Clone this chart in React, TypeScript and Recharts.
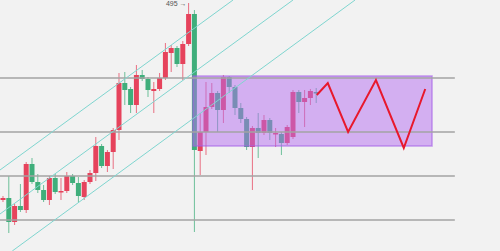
import React from "react"
import {
	ComposedChart,
	Bar,
	Line,
	XAxis,
	YAxis,
	ReferenceArea,
	ReferenceLine,
	ReferenceDot,
} from "recharts"

// candle values, one entry per session
const opens = [298, 300, 276, 292, 288, 334, 316, 308, 298, 320, 306, 307, 322, 315, 301, 316, 325, 352, 332, 346, 368, 415, 409, 393, 423, 419, 407, 409, 420, 445, 450, 434, 454, 484, 347, 366, 391, 405, 388, 421, 411, 390, 379, 351, 370, 365, 378, 364, 364, 355, 361, 406, 396, 400, 406]
const closes = [300, 276, 292, 288, 334, 316, 308, 298, 320, 306, 307, 322, 315, 302, 316, 325, 352, 332, 346, 368, 415, 408, 393, 423, 419, 408, 409, 420, 446, 450, 434, 454, 484, 348, 366, 391, 405, 388, 421, 411, 390, 379, 351, 370, 365, 378, 365, 365, 355, 371, 406, 396, 400, 407, 405]
const highs = [302, 322, 294, 314, 336, 340, 324, 313, 322, 324, 320, 326, 324, 321, 318, 328, 361, 354, 348, 370, 425, 426, 411, 433, 428, 421, 416, 425, 455, 453, 452, 457, 495, 488, 385, 416, 415, 407, 423, 422, 413, 395, 381, 372, 385, 383, 380, 370, 366, 373, 408, 408, 408, 409, 410]
const lows = [296, 265, 273, 286, 285, 314, 305, 296, 293, 304, 298, 305, 313, 296, 298, 314, 317, 330, 326, 329, 358, 393, 385, 385, 417, 401, 385, 407, 418, 426, 431, 418, 452, 266, 323, 343, 389, 366, 375, 405, 383, 375, 348, 308, 340, 363, 358, 351, 343, 353, 359, 385, 371, 393, 395]

// projected path drawn to the right of the last candle
const zigX = [54.1, 56.0, 59.5, 64.3, 69.1, 72.8]
const zigY = [403, 415, 366, 418, 350, 409]

// horizontal support / resistance levels
const levels = [420, 366, 322, 278]
const levelStart = -0.52
const levelEnd = 77.9

// rising channel lines [x1, y1, x2, y2]
const channels = [
	[-0.52, 328, 39.66, 498],
	[-0.52, 284, 50.0, 498],
	[1.6, 247, 60.7, 498],
]

// consolidation box
const boxX = [32.76, 73.97]
const boxY = [352, 422]

const peakIndex = 32
const peakValue = 495

const RED = "#e6435c"
const GREEN = "#3fae7b"
const BODY_W = 5

const candles = opens.map((open, i) => ({
	x: i,
	open,
	close: closes[i],
	high: highs[i],
	low: lows[i],
	range: [lows[i], highs[i]],
}))

const zigData = zigX.map((x, i) => ({ x, zig: zigY[i] }))

const Candle = (props: any) => {
	const { x, y, width, height, payload } = props
	const { open, close, high, low } = payload
	const top = Math.min(y, y + height)
	const h = Math.abs(height)
	const ratio = h / (high - low)
	const color = close >= open ? RED : GREEN
	const bodyTop = top + (high - Math.max(open, close)) * ratio
	const bodyH = Math.max(1.5, Math.abs(open - close) * ratio)
	const cx = x + (width || 0) / 2
	return (
		<g>
			<line x1={cx} x2={cx} y1={top} y2={top + h} stroke={color} strokeOpacity={0.75} />
			<rect x={cx - BODY_W / 2} y={bodyTop} width={BODY_W} height={bodyH} fill={color} />
		</g>
	)
}

const App: React.FC = () => (
	<div
		style={{
			position: "absolute",
			left: 0,
			top: 0,
			width: 500,
			height: 251,
			background: "#f2f2f2",
			fontFamily: "'Liberation Sans', Arial, sans-serif",
		}}
	>
		<ComposedChart width={500} height={251} data={candles} margin={{ top: 0, right: 0, bottom: 0, left: 0 }}>
			<XAxis dataKey="x" type="number" domain={[-0.517, 85.69]} allowDataOverflow hide />
			<YAxis type="number" domain={[247, 498]} allowDataOverflow hide />
			{levels.map((v) => (
				<ReferenceLine
					key={v}
					segment={[
						{ x: levelStart, y: v },
						{ x: levelEnd, y: v },
					]}
					stroke="#a3a3a3"
					strokeWidth={1.3}
					ifOverflow="visible"
				/>
			))}
			{channels.map((c, i) => (
				<ReferenceLine
					key={`ch-${i}`}
					segment={[
						{ x: c[0], y: c[1] },
						{ x: c[2], y: c[3] },
					]}
					stroke="#7fd5cf"
					strokeWidth={1}
					ifOverflow="visible"
				/>
			))}
			<Bar dataKey="range" shape={Candle} isAnimationActive={false} />
			<ReferenceArea
				x1={boxX[0]}
				x2={boxX[1]}
				y1={boxY[0]}
				y2={boxY[1]}
				fill="#b36cf0"
				fillOpacity={0.5}
				stroke="#a35de6"
				strokeOpacity={0.6}
				strokeWidth={1.5}
				ifOverflow="visible"
				zIndex={350}
			/>
			<Line
				data={zigData}
				dataKey="zig"
				type="linear"
				stroke="#e8182c"
				strokeWidth={2}
				dot={false}
				activeDot={false}
				legendType="none"
				isAnimationActive={false}
				zIndex={450}
			/>
			<ReferenceDot
				x={peakIndex}
				y={peakValue}
				r={0}
				label={{ value: `${peakValue} →`, position: "left", offset: 2, fontSize: 7, fill: "#555" }}
			/>
		</ComposedChart>
	</div>
)

export default App
